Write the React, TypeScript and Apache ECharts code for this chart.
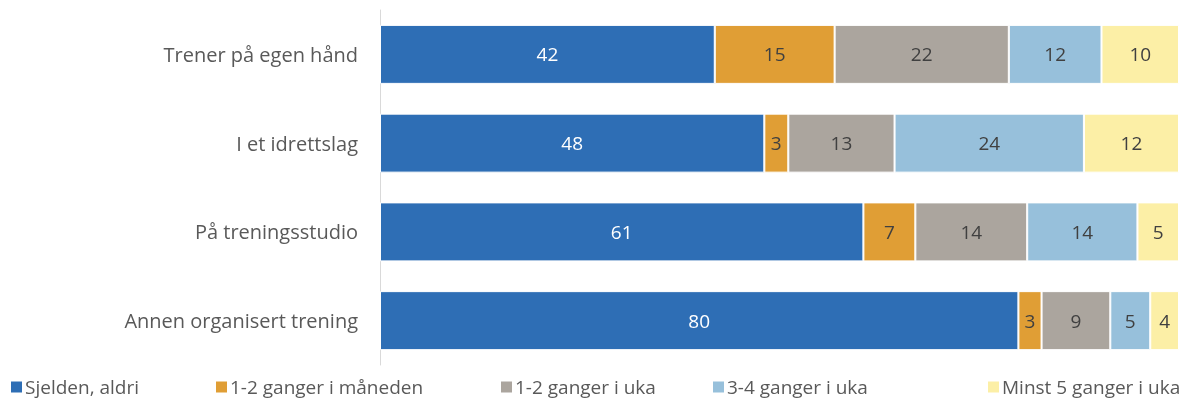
import React, { useEffect, useRef } from "react";
import * as echarts from "echarts";

const categories = ["Trener på egen hånd", "I et idrettslag", "På treningsstudio", "Annen organisert trening"];
const seriesNames = ["Sjelden, aldri", "1-2 ganger i måneden", "1-2 ganger i uka", "3-4 ganger i uka", "Minst 5 ganger i uka"];
const sjelden = [41.9, 48.1, 60.5, 79.9];
const maaned = [15, 3, 6.5, 2.9];
const ukaLav = [21.8, 13.3, 14, 8.6];
const ukaMid = [11.6, 23.7, 13.8, 5];
const ukaHoy = [9.7, 11.9, 5.2, 3.6];
const colors = ["#2E6EB5", "#E09E35", "#ABA59E", "#97C0DB", "#FCEFA6"];
const legendLeft = [9, 214, 499, 711, 986];

export default function App() {
  const ref = useRef<HTMLDivElement>(null);
  useEffect(() => {
    if (!ref.current) return;
    const chart = echarts.init(ref.current, null, { renderer: "svg" });
    const all = [sjelden, maaned, ukaLav, ukaMid, ukaHoy];
    const font = "Open Sans, sans-serif";
    chart.setOption({
      animation: false,
      grid: { left: 380, right: -1, top: 10, height: 355, containLabel: false },
      xAxis: { type: "value", min: 0, max: 100, show: false },
      yAxis: {
        type: "category",
        data: categories,
        inverse: true,
        axisTick: { show: false },
        axisLine: { show: true, lineStyle: { color: "#D9D9D9", width: 1 } },
        axisLabel: { color: "#595959", fontSize: 20, fontFamily: font, margin: 22 },
      },
      legend: seriesNames.map((n, i) => ({
        data: [n],
        left: legendLeft[i],
        top: 377,
        itemWidth: 13,
        itemHeight: 13,
        icon: "rect",
        itemGap: 0,
        textStyle: { color: "#595959", fontSize: 19, lineHeight: 20, fontFamily: font, padding: [0, 0, 0, -3] },
        padding: 0,
      })),
      series: all.map((d, i) => ({
        name: seriesNames[i],
        type: "bar",
        stack: "total",
        data: d,
        barWidth: 59,
        itemStyle: { color: colors[i], borderColor: "#fff", borderWidth: 1 },
        label: {
          show: true,
          position: "inside",
          color: i === 0 ? "#fff" : "#404040",
          fontSize: 19,
          fontFamily: font,
          formatter: (p: any) => String(Math.round(p.value)),
        },
      })),
    });
    return () => chart.dispose();
  }, []);
  return <div ref={ref} style={{ position: "fixed", left: 0, top: 0, width: 1179, height: 399 }} />;
}
